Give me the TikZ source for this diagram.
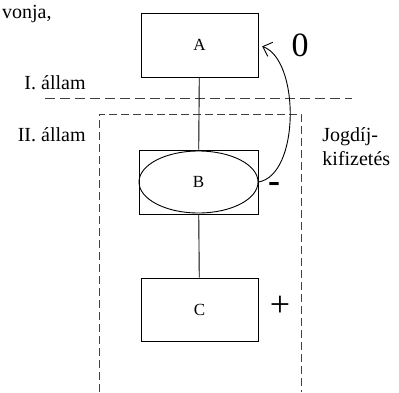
\documentclass[tikz,border=0pt]{standalone}
\usepackage{fontspec}
\setmainfont{Liberation Serif}
\usetikzlibrary{shapes.geometric, arrows.meta, positioning}
\colorlet{cDash}{black!75}

\begin{document}
\begin{tikzpicture}[x=1pt, y=-1pt, line width=0.9pt,
    doboz/.style={draw, minimum width=117pt, minimum height=64pt, inner sep=0pt,
                  font=\fontsize{17}{17}\selectfont},
    felirat/.style={font=\fontsize{20}{24}\selectfont, inner sep=0pt},
    jel/.style={font=\fontsize{34}{34}\selectfont, inner sep=0pt}]
  \useasboundingbox (0,0) rectangle (399,392);
  % Hat\'arvonalak
  \draw[cDash, line width=1pt, dash pattern=on 10pt off 5pt] (45,98) -- (352,98);
  \draw[cDash, line width=1pt, dash pattern=on 8pt off 4pt] (99,392) -- (99,114) -- (301,114) -- (301,392);
  % Dobozok
  \node[doboz] (A) at (199.5,45) {A};
  \node[doboz, minimum width=119pt] (B) at (198.5,182) {};
  \node[draw, ellipse, minimum width=119pt, minimum height=62pt, inner sep=0pt,
        font=\fontsize{17}{17}\selectfont] (Bell) at (B) {B};
  \node[doboz, minimum height=63pt] (C) at (199.5,309.5) {C};
  \draw (A) -- (B);
  \draw (B) -- (C);
  % Jogd\'ij-ív
  \draw[-{Straight Barb[length=8pt,width=15pt]}, shorten >=4pt]
    (Bell.east) .. controls (300,175) and (300,60) .. (A.east);
  % Feliratok
  \node[felirat, anchor=base east] (vonja) at (52,18) {vonja,};
  \node[felirat, anchor=base east] (allamI) at (86,89) {I. állam};
  \node[felirat, anchor=base east] (allamII) at (86,141) {II. állam};
  \node[felirat, anchor=base west, align=left] (jogdij) at (322,165) {Jogdíj-\\kifizetés};
  \node[jel] (nulla) at (300,45) {0};
  \node[jel, font=\fontsize{36}{36}\selectfont\bfseries] (minusz) at (274,187) {-};
  \node[jel, font=\fontsize{36}{36}\selectfont] (plusz) at (280,306) {+};
\end{tikzpicture}
\end{document}
